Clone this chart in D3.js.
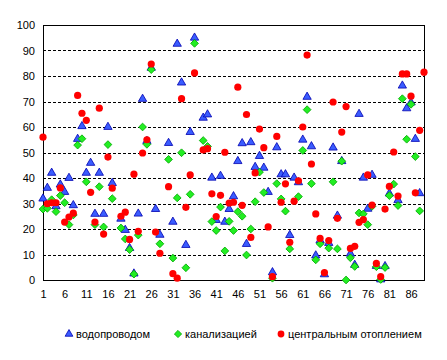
<!DOCTYPE html>
<html>
<head>
<meta charset="utf-8">
<script src="https://cdn.jsdelivr.net/npm/d3@7"></script>
<style>
  body { margin: 0; background: #fff; }
  text { font-family: Arial, "Liberation Sans", sans-serif; font-size: 11px; fill: #000; }
  .grid line { stroke: #000; stroke-dasharray: 3,2; shape-rendering: crispEdges; }
</style>
</head>
<body>
<svg width="447" height="360"></svg>
<script>
// регионы 1..89, доля жилья (%)
var regions = d3.range(1, 90);
var xTicks = d3.range(1, 90, 5);
var yTicks = [0, 10, 20, 30, 40, 50, 60, 70, 80, 90, 100];

var vodo = [31.9, 36.1, 42, 28.9, 37.4, 34.5, 40, 29.3, 55.3, 60.3,
  42, 45.9, 25.9, 42, 25.9, 60, 38, null, 24, 19.6,
  12.5, 2.5, 26, 71, 54.5, 83.2, 27.8, 17.7, null, 53.7,
  22.8, 92.6, 77.4, 13.7, 58, 95, null, 63.6, 64.9, 40.1,
  23.5, 40.8, 22.8, 27.8, 32.8, 46.6, 53.6, 14.1, 54, 44.3,
  48.6, 44, 34.5, 3, 52, 41.4, 41.4, 17.6, 40.1, 38.3,
  55, 71.8, 52.4, 9.6, 15.5, 2.2, 14.5, 51.9, 25.2, 46.6,
  null, 10.3, 5.9, 65.1, 40.1, 27.9, 41.2, 5.5, 0.2, 5.4,
  33.9, null, 31.3, 76.2, 67.3, 69.6, 55.3, 34, null];

var kanal = [27.8, 28.1, 31.5, 26.8, 33.1, 30.3, 21.7, 25.5, 52.9, 55.4,
  38.5, null, 21.7, 36.6, 20.8, 53.1, 31.9, null, 20.4, 16.1,
  11.9, 2.3, 17.6, 60, 53.2, 82.5, null, 14.2, null, 47.3,
  8.6, 32.2, 49.9, 4.8, 33.6, 92.8, null, 54.7, 52.4, 22.9,
  19.4, 28.6, 11.4, 23, 19.4, 26.8, 25, 9.8, 20, 30.7,
  42.3, 34.3, null, 0.7, 37.8, 31.8, 27, 12.2, null, 32.7,
  50.8, 66.8, 37.8, 7.9, 14.2, null, 12.5, 38.5, 12.2, 46.6,
  0, 8.7, 5.3, 26.3, 25.9, 21.7, 28.9, 5.2, 0.2, 4.9,
  33.1, 37.6, 29.2, 71.1, 55.2, 68.9, 48.4, 27.1, null];

var otopl = [56, 29.9, 30.3, 30.3, 36.1, 22.7, 24.7, 26.2, 72.4, 65.4,
  62.6, 34.4, 22.7, 67.4, 18, 48.2, 36, null, 25, 26.6,
  15.9, 41.5, 19.1, 49.8, 55, 84.7, 18.8, 10.5, null, 36.6,
  2.5, 0.7, 71.1, 28.5, 41.2, 81.2, null, 51, 51.5, 33.8,
  24.9, 33.2, 50.1, 30.2, 30.5, 75.6, 29.3, 64.9, 16.7, 42,
  59.2, 51.9, 20.8, 1.3, 56.3, 30.5, 37.7, 14.8, 30.9, 38.9,
  60, 88.2, 45.5, 25.9, 16.3, 2.9, 15.5, 69.8, 24.2, 58,
  68, 12.4, 13.2, 22.6, 23.7, 41.2, 29.4, 6.5, 1.3, 27.8,
  36.7, 50.2, 32.9, 80.8, 80.8, 72.1, 34.2, 58.7, 81.5];

var seriesNames = ['водопроводом', 'канализацией', 'центральным отоплением'];

var margin = { top: 25, right: 23, bottom: 80, left: 43 };
var width = 447 - margin.left - margin.right,
    height = 360 - margin.top - margin.bottom;

var svg = d3.select('svg')
  .append('g')
    .attr('transform', 'translate(' + margin.left + ',' + margin.top + ')');

var x = d3.scaleLinear().domain([1, 89]).range([0, width]);
var y = d3.scaleLinear().domain([0, 100]).range([height, 0]);

// dashed gridlines
svg.append('g')
  .attr('class', 'grid')
  .selectAll('line')
  .data(yTicks.filter(function(d) { return d > 0 && d < 100; }))
  .enter().append('line')
    .attr('x1', 0)
    .attr('x2', width)
    .attr('y1', function(d) { return Math.round(y(d)) + 0.5; })
    .attr('y2', function(d) { return Math.round(y(d)) + 0.5; });

// plot frame
svg.append('rect')
  .attr('x', 0.5).attr('y', 0.5)
  .attr('width', width).attr('height', height)
  .attr('fill', 'none')
  .attr('stroke', '#000')
  .attr('stroke-width', 1.5)
  .attr('shape-rendering', 'crispEdges');

var yAxis = d3.axisLeft(y).tickValues(yTicks).tickSize(0).tickPadding(8);
var xAxis = d3.axisBottom(x).tickValues(xTicks).tickSize(0).tickPadding(10);

svg.append('g')
  .attr('class', 'y axis')
  .call(yAxis)
  .call(function(g) { g.select('.domain').remove(); })
  .selectAll('text').attr('font-size', 11).attr('font-family', 'Arial, "Liberation Sans", sans-serif');

svg.append('g')
  .attr('class', 'x axis')
  .attr('transform', 'translate(0,' + height + ')')
  .call(xAxis)
  .call(function(g) { g.select('.domain').remove(); })
  .selectAll('text').attr('font-size', 11).attr('font-family', 'Arial, "Liberation Sans", sans-serif');

var tri = d3.symbol().type(d3.symbolTriangle).size(30);
var sq = d3.symbol().type(d3.symbolSquare).size(30);

function pts(vals) {
  return regions.map(function(r, i) { return { r: r, v: vals[i] }; })
    .filter(function(d) { return d.v != null; });
}

svg.append('g').selectAll('path')
  .data(pts(vodo))
  .enter().append('path')
    .attr('d', tri)
    .attr('fill', '#3a5cff')
    .attr('stroke', '#0000b0')
    .attr('stroke-width', 0.8)
    .attr('transform', function(d) { return 'translate(' + x(d.r) + ',' + y(d.v) + ')'; });

svg.append('g').selectAll('path')
  .data(pts(kanal))
  .enter().append('path')
    .attr('d', sq)
    .attr('fill', '#22ee22')
    .attr('stroke', '#00aa00')
    .attr('stroke-width', 0.8)
    .attr('transform', function(d) { return 'translate(' + x(d.r) + ',' + y(d.v) + ') rotate(45)'; });

svg.append('g').selectAll('circle')
  .data(pts(otopl))
  .enter().append('circle')
    .attr('cx', function(d) { return x(d.r); })
    .attr('cy', function(d) { return y(d.v); })
    .attr('r', 3.6)
    .attr('fill', '#ff0000');

// legend
var legend = d3.select('svg').append('g')
  .attr('transform', 'translate(0,334)');

var legX = [69, 178, 281];

legend.append('path')
  .attr('d', d3.symbol().type(d3.symbolTriangle).size(26))
  .attr('transform', 'translate(' + legX[0] + ',0)')
  .attr('fill', '#3a5cff').attr('stroke', '#0000b0').attr('stroke-width', 0.8);
legend.append('path')
  .attr('d', d3.symbol().type(d3.symbolSquare).size(26))
  .attr('transform', 'translate(' + legX[1] + ',0) rotate(45)')
  .attr('fill', '#22ee22').attr('stroke', '#00aa00').attr('stroke-width', 0.8);
legend.append('circle')
  .attr('cx', legX[2]).attr('cy', 0).attr('r', 3.4)
  .attr('fill', '#ff0000');

legend.selectAll('text.lbl')
  .data(seriesNames)
  .enter().append('text')
    .attr('class', 'lbl')
    .attr('x', function(d, i) { return legX[i] + 7; })
    .attr('y', 4)
    .text(function(d) { return d; });
</script>
</body>
</html>
